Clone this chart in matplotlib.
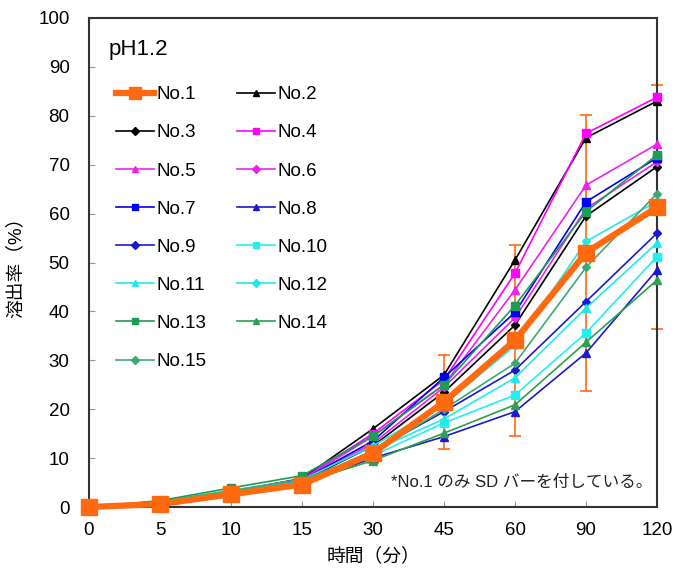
import numpy as np
import matplotlib
matplotlib.use('Agg')
import matplotlib.pyplot as plt

plt.rcParams['font.family'] = ['Liberation Sans', 'Noto Sans CJK JP', 'DejaVu Sans']

# 時間 (分) - 等間隔のカテゴリとして描く
times = [0, 5, 10, 15, 30, 45, 60, 90, 120]

no1 = [0, 0.6, 2.6, 4.6, 11.0, 21.5, 34.1, 52.0, 61.3]
no1_sd = [0, 0.3, 0.5, 0.8, 2.0, 9.6, 19.5, 28.2, 25.0]
no2 = [0, 1.0, 3.2, 5.8, 16.0, 27.0, 50.5, 75.5, 83.0]
no3 = [0, 0.8, 3.0, 5.3, 12.5, 23.5, 37.2, 59.5, 69.6]
no4 = [0, 1.0, 3.2, 5.7, 15.0, 26.0, 47.8, 76.4, 83.8]
no5 = [0, 1.0, 3.1, 5.5, 14.5, 25.0, 44.4, 65.8, 74.2]
no6 = [0, 0.9, 3.0, 5.4, 13.0, 24.5, 38.7, 61.0, 70.6]
no7 = [0, 1.0, 3.1, 5.5, 13.5, 26.5, 39.8, 62.4, 71.4]
no8 = [0, 0.8, 2.6, 4.8, 10.0, 14.4, 19.5, 31.5, 48.5]
no9 = [0, 0.9, 2.9, 5.0, 11.5, 19.5, 28.0, 42.0, 56.0]
no10 = [0, 1.0, 3.0, 5.0, 10.5, 17.2, 22.9, 35.6, 51.2]
no11 = [0, 1.1, 3.2, 5.2, 11.5, 18.0, 26.4, 40.7, 54.0]
no12 = [0, 1.2, 3.4, 5.6, 12.5, 21.0, 33.0, 54.3, 62.5]
no13 = [0, 1.3, 3.9, 6.4, 14.5, 25.0, 41.2, 60.4, 72.0]
no14 = [0, 1.0, 3.0, 5.0, 9.5, 15.1, 20.9, 33.7, 46.4]
no15 = [0, 1.1, 3.3, 5.6, 11.0, 20.0, 29.4, 49.0, 64.1]

others = [
    ('No.2', no2, 'black', '^'),
    ('No.3', no3, 'black', 'D'),
    ('No.4', no4, '#FF00FF', 's'),
    ('No.5', no5, '#EE22EE', '^'),
    ('No.6', no6, '#EE22EE', 'D'),
    ('No.7', no7, '#0000EE', 's'),
    ('No.8', no8, '#1A1ACC', '^'),
    ('No.9', no9, '#1A1ACC', 'D'),
    ('No.10', no10, '#22F0F0', 's'),
    ('No.11', no11, '#22E8E8', '^'),
    ('No.12', no12, '#22E8E8', 'D'),
    ('No.13', no13, '#1E9B55', 's'),
    ('No.14', no14, '#2E9E50', '^'),
    ('No.15', no15, '#3CAA70', 'D'),
]

fig = plt.figure(figsize=(6.78, 5.75), dpi=100)
ax = fig.add_axes([89 / 678, 1 - 507 / 575, 568 / 678, 489 / 575])

x = np.arange(len(times))
orange = '#FF6A10'

ax.errorbar(x, no1, yerr=no1_sd, fmt='none', ecolor=orange, elinewidth=1.2,
            capsize=4, capthick=1.2, zorder=2, clip_on=False)

handles = {}
for name, vals, col, mk in others:
    ms = 6 if mk == 's' else (5.5 if mk == '^' else 4)
    h, = ax.plot(x, vals, color=col, marker=mk, markersize=ms, lw=1.2,
                 label=name, zorder=3, clip_on=False)
    handles[name] = h

h1, = ax.plot(x, no1, color=orange, marker='s', markersize=11, lw=4.5,
              label='No.1', zorder=5, clip_on=False)
handles['No.1'] = h1

order = ['No.1', 'No.2', 'No.3', 'No.4', 'No.5', 'No.6', 'No.7', 'No.8',
         'No.9', 'No.10', 'No.11', 'No.12', 'No.13', 'No.14', 'No.15']
# 2列で行ごとに並べる
col1 = order[0::2]
col2 = order[1::2]
leg_order = col1 + col2
leg = ax.legend([handles[k] for k in leg_order], leg_order, ncol=2,
                loc='upper left', bbox_to_anchor=(0.035, 0.876), frameon=False,
                fontsize=13.5, handlelength=2.0, handletextpad=0.15,
                labelspacing=1.12, columnspacing=1.62, borderaxespad=0)
for h in leg.legend_handles:
    if h.get_label() == 'No.1':
        h.set_markersize(8)
    else:
        h.set_markersize(4.5)

ax.text(0.035, 0.935, 'pH1.2', transform=ax.transAxes, fontsize=16,
        ha='left', va='center')
ax.text(0.991, 0.051, '*No.1 のみ SD バーを付している。', transform=ax.transAxes,
        fontsize=12, ha='right', va='center', color='#222222')

ax.set_xlim(0, len(times) - 1)
ax.set_ylim(0, 100)
ax.set_xticks(x)
ax.set_xticklabels([str(t) for t in times])
ax.set_yticks(np.arange(0, 101, 10))
ax.tick_params(direction='in', length=4, color='#999999', labelsize=13.5)
ax.tick_params(axis='x', pad=11)
ax.tick_params(axis='y', pad=14)
for s in ax.spines.values():
    s.set_color('#333333')
    s.set_linewidth(1.5)

ax.set_xlabel('時間（分）', fontsize=13.5, labelpad=6)
ax.set_ylabel('溶出率（%）', fontsize=13.5, labelpad=10)

fig.savefig('out.png', dpi=100)
